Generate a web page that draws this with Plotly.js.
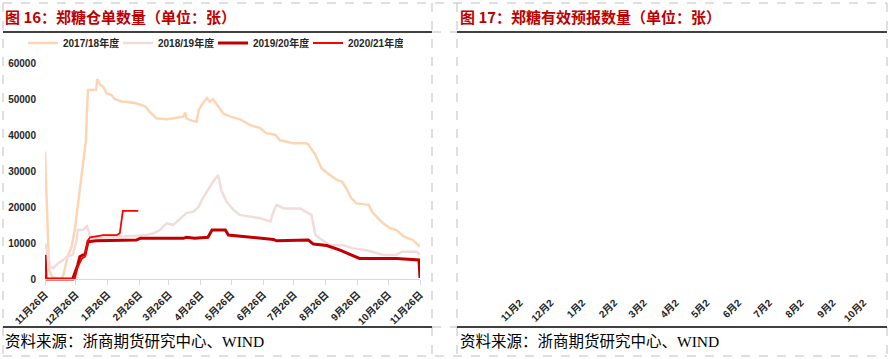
<!DOCTYPE html>
<html>
<head>
<meta charset="utf-8">
<script src="https://cdn.plot.ly/plotly-3.0.1.min.js"></script>
<style>
html,body{margin:0;padding:0;background:#fff;}
#chart{width:890px;height:359px;}
</style>
</head>
<body>
<div id="chart"></div>
<script>
// ---- data ----
const seriesNames = ['2017/18年度', '2018/19年度', '2019/20年度', '2020/21年度'];

const dates1718 = ['2019-11-26','2019-11-28','2019-11-30','2019-12-03','2019-12-09','2019-12-12','2019-12-14','2019-12-18','2019-12-22','2019-12-25','2019-12-28','2019-12-31','2020-01-03','2020-01-05','2020-01-06','2020-01-07','2020-01-12','2020-01-15','2020-01-16','2020-01-19','2020-01-22','2020-01-25','2020-01-30','2020-02-02','2020-02-09','2020-02-14','2020-02-23','2020-03-03','2020-03-07','2020-03-14','2020-03-24','2020-03-30','2020-04-09','2020-04-11','2020-04-12','2020-04-17','2020-04-22','2020-04-24','2020-04-28','2020-05-02','2020-05-05','2020-05-08','2020-05-13','2020-05-18','2020-05-25','2020-06-03','2020-06-13','2020-06-23','2020-06-29','2020-07-08','2020-07-12','2020-07-25','2020-08-07','2020-08-09','2020-08-16','2020-08-22','2020-08-30','2020-09-06','2020-09-11','2020-09-15','2020-09-20','2020-09-25','2020-10-07','2020-10-11','2020-10-21','2020-10-28','2020-11-03','2020-11-10','2020-11-19','2020-11-26'];
const vals1718 = [35400,18000,2500,500,0,0,1100,6200,9000,13600,20100,26600,34000,38600,47000,52500,52500,52600,55500,53900,53400,51600,51100,50000,49250,49250,48800,47900,46500,44600,44400,44600,45100,46200,44600,44000,43700,46900,48800,50200,49250,49900,47900,46000,45100,44400,42800,41900,40500,40000,38600,37700,37700,37400,34400,30700,28900,27500,27000,25200,22400,21000,20600,18300,15500,14100,13600,11800,10800,9000];

const dates1819 = ['2019-11-26','2019-11-27','2019-12-01','2019-12-04','2019-12-09','2019-12-14','2019-12-18','2019-12-23','2019-12-27','2019-12-28','2020-01-02','2020-01-06','2020-01-09','2020-01-12','2020-01-28','2020-02-23','2020-03-04','2020-03-11','2020-03-17','2020-03-24','2020-03-30','2020-04-06','2020-04-12','2020-04-19','2020-04-24','2020-04-27','2020-05-02','2020-05-07','2020-05-13','2020-05-16','2020-05-21','2020-05-28','2020-06-03','2020-06-13','2020-06-23','2020-07-03','2020-07-06','2020-07-09','2020-07-16','2020-08-01','2020-08-07','2020-08-12','2020-08-16','2020-08-20','2020-08-30','2020-09-12','2020-09-22','2020-10-05','2020-10-21','2020-11-03','2020-11-08','2020-11-23','2020-11-26'];
const vals1819 = [9900,9000,3400,3000,4400,5300,6200,6700,10800,13600,13600,14700,11800,11300,11500,12000,12200,12700,13600,15500,15000,16900,18300,18700,20100,21900,24200,26600,28900,24700,21500,19200,17800,17300,16900,15900,18700,20600,19600,19600,18700,17800,12200,11300,9400,9400,8500,8000,6700,6700,7600,7600,6700];

const dates1920 = ['2019-11-26','2019-11-27','2019-12-23','2019-12-28','2019-12-30','2020-01-02','2020-01-04','2020-01-07','2020-01-09','2020-01-15','2020-02-23','2020-02-27','2020-04-09','2020-04-12','2020-04-20','2020-05-03','2020-05-07','2020-05-20','2020-05-23','2020-05-31','2020-06-03','2020-06-13','2020-06-23','2020-07-06','2020-07-09','2020-08-09','2020-08-14','2020-08-27','2020-09-09','2020-09-19','2020-09-28','2020-11-03','2020-11-16','2020-11-25','2020-11-26'];
const vals1920 = [6700,0,0,3900,6200,6700,6700,10400,10400,10600,10800,11300,11300,11600,11300,11600,13600,13600,12200,12000,11800,11600,11300,11000,10600,10800,9700,9300,8000,6700,5700,5700,5500,5300,300];

const dates2021 = ['2019-11-26','2019-11-27','2019-12-25','2019-12-28','2020-01-01','2020-01-04','2020-01-07','2020-01-09','2020-01-22','2020-02-04','2020-02-07','2020-02-10','2020-02-25'];
const vals2021 = [6500,0,0,3400,5700,6200,10800,11600,12200,12200,12700,18900,18900];

const tickDates = ['2019-11-26','2019-12-26','2020-01-26','2020-02-26','2020-03-26','2020-04-26','2020-05-26','2020-06-26','2020-07-26','2020-08-26','2020-09-26','2020-10-26','2020-11-26'];
const tickLabels = ['11月26日','12月26日','1月26日','2月26日','3月26日','4月26日','5月26日','6月26日','7月26日','8月26日','9月26日','10月26日','11月26日'];
const rightTickLabels = ['11月2','12月2','1月2','2月2','3月2','4月2','5月2','6月2','7月2','8月2','9月2','10月2'];
const yTicks = [0,10000,20000,30000,40000,50000,60000];

// ---- styles ----
const W = 890, H = 359;
const colors = ['#FCD5B4', '#F2DCDB', '#C00000', '#FF0000'];
const widths = [2.5, 2.5, 3, 1.8];
const px = v => v / W;
const py = v => 1 - v / H;
const FONT = 'Liberation Sans, Arial, Noto Sans CJK SC, sans-serif';

const dateSets = [dates1718, dates1819, dates1920, dates2021];
const valSets = [vals1718, vals1819, vals1920, vals2021];
const traces = seriesNames.map((n, i) => ({
  type: 'scatter', mode: 'lines', name: n,
  x: dateSets[i], y: valSets[i],
  line: {color: colors[i], width: widths[i]},
  xaxis: 'x', yaxis: 'y', hoverinfo: 'skip'
}));
// invisible trace for the empty right-hand chart
traces.push({type: 'scatter', mode: 'lines', x: [], y: [], xaxis: 'x2', yaxis: 'y2', showlegend: false});

const dashed = {color: '#BFBFBF', width: 1, dash: 'dash'};
const solid = {color: '#000000', width: 1.5};
const line = (x0, y0, x1, y1, l) => ({type: 'line', xref: 'paper', yref: 'paper', x0: px(x0), x1: px(x1), y0: py(y0), y1: py(y1), line: l});

const shapes = [
  line(3, 3, 887, 3, dashed),
  line(3, 356, 887, 356, dashed),
  line(3, 3, 3, 356, dashed),
  line(432, 3, 432, 356, dashed),
  line(457, 3, 457, 356, dashed),
  line(887, 3, 887, 356, dashed),
  line(432, 32, 457, 32, dashed),
  line(432, 327, 457, 327, dashed),
  line(3, 32, 432, 32, solid),
  line(457, 32, 887, 32, solid),
  line(3, 327, 432, 327, solid),
  line(457, 327, 887, 327, solid)
];

const titleFont = {family: 'Noto Sans CJK SC, sans-serif', size: 15, color: '#C00000', weight: 'bold'};
const footFont = {family: 'Liberation Serif, Noto Sans CJK SC, serif', size: 15.5, color: '#000000'};
const annotations = [
  {text: '图 16：郑糖仓单数量（单位：张）', xref: 'paper', yref: 'paper', x: px(3), y: py(17), xanchor: 'left', yanchor: 'middle', showarrow: false, font: titleFont},
  {text: '图 17：郑糖有效预报数量（单位：张）', xref: 'paper', yref: 'paper', x: px(458), y: py(17), xanchor: 'left', yanchor: 'middle', showarrow: false, font: titleFont},
  {text: '资料来源：浙商期货研究中心、WIND', xref: 'paper', yref: 'paper', x: px(3), y: py(341), xanchor: 'left', yanchor: 'middle', showarrow: false, font: footFont},
  {text: '资料来源：浙商期货研究中心、WIND', xref: 'paper', yref: 'paper', x: px(458), y: py(341), xanchor: 'left', yanchor: 'middle', showarrow: false, font: footFont}
];

const tickFont = {family: FONT, size: 10, color: '#262626', weight: 'bold'};
const yMin = -1500, yMax = 60000;
const yZeroPx = 279, yTopPx = 63;
const pxPerUnit = (yZeroPx - yTopPx) / yMax;
const yBottomPx = yZeroPx - yMin * pxPerUnit;

const layout = {
  width: W, height: H,
  margin: {l: 0, r: 0, t: 0, b: 0, pad: 0},
  paper_bgcolor: '#ffffff', plot_bgcolor: 'rgba(0,0,0,0)',
  showlegend: true,
  legend: {
    orientation: 'h', x: px(23), xanchor: 'left', y: py(43), yanchor: 'middle',
    font: {family: FONT, size: 10, color: '#262626', weight: 'bold'},
    entrywidth: 50, entrywidthmode: 'pixels', bgcolor: 'rgba(0,0,0,0)', borderwidth: 0,
    tracegroupgap: 0, itemclick: false, itemdoubleclick: false
  },
  xaxis: {
    type: 'date', domain: [px(45), px(420)], range: ['2019-11-26', '2020-11-26'],
    anchor: 'free', position: py(yZeroPx),
    tickvals: tickDates, ticktext: tickLabels, tickangle: -45, tickfont: tickFont,
    showline: true, linecolor: '#D9D9D9', linewidth: 1,
    ticks: 'outside', ticklen: 5, tickcolor: '#D9D9D9', tickwidth: 1,
    showgrid: false, zeroline: false, fixedrange: true
  },
  yaxis: {
    domain: [py(yBottomPx), py(yTopPx)], range: [yMin, yMax],
    tickvals: yTicks, ticktext: yTicks.map(String), tickfont: tickFont,
    ticklabelstandoff: 8,
    showline: false, showgrid: false, zeroline: false, ticks: '', fixedrange: true
  },
  xaxis2: {
    type: 'date', domain: [px(520), 1], range: ['2019-11-26', '2020-11-21'],
    anchor: 'y2', tickvals: tickDates.slice(0, 12), ticktext: rightTickLabels,
    tickangle: -45, tickfont: tickFont,
    showline: false, ticks: '', showgrid: false, zeroline: false, fixedrange: true
  },
  yaxis2: {
    domain: [py(294), py(63)], range: [0, 1], anchor: 'x2',
    showticklabels: false, showline: false, showgrid: false, zeroline: false, ticks: '', fixedrange: true
  },
  shapes: shapes,
  annotations: annotations
};

Plotly.newPlot('chart', traces, layout, {displayModeBar: false, staticPlot: true});
</script>
</body>
</html>
